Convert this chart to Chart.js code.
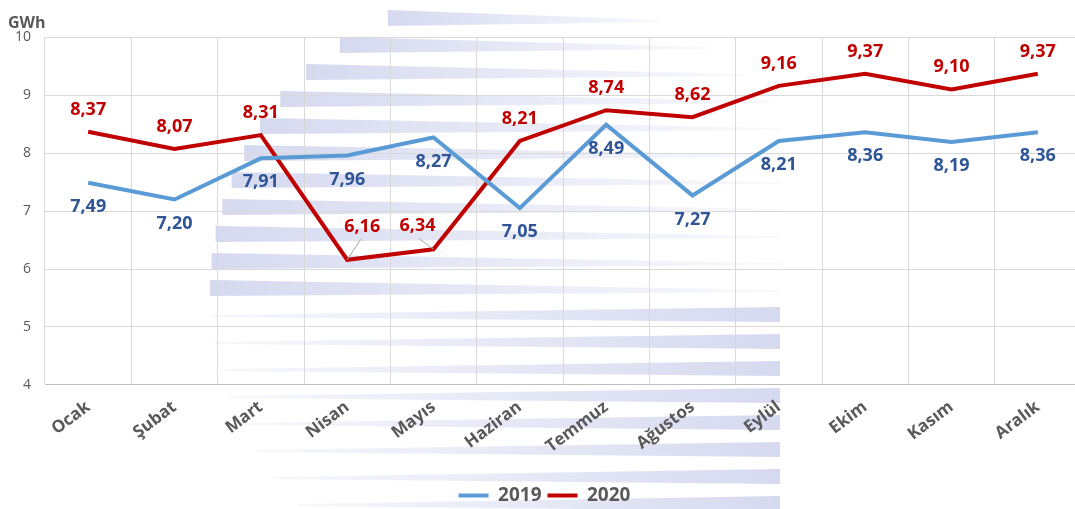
<!DOCTYPE html>
<html>
<head>
<meta charset="utf-8">
<script src="https://cdn.jsdelivr.net/npm/chart.js@4.4.1/dist/chart.umd.min.js"></script>
<style>
  html, body { margin: 0; padding: 0; background: #fff; overflow: hidden; }
  #wrap { width: 1085px; height: 509px; position: relative; }
</style>
</head>
<body>
<div id="wrap"><canvas id="chart"></canvas></div>
<script>
const months = ["Ocak", "Şubat", "Mart", "Nisan", "Mayıs", "Haziran", "Temmuz", "Ağustos", "Eylül", "Ekim", "Kasım", "Aralık"];
const values2019 = [7.49, 7.20, 7.91, 7.96, 8.27, 7.05, 8.49, 7.27, 8.21, 8.36, 8.19, 8.36];
const values2020 = [8.37, 8.07, 8.31, 6.16, 6.34, 8.21, 8.74, 8.62, 9.16, 9.37, 9.10, 9.37];
const yTicks = [4, 5, 6, 7, 8, 9, 10];

const gray = "#595959";
const labelFont = "bold 18px 'Open Sans'";

// etiket kaydırma (px): 2019 altta, 2020 üstte; Nisan/Mayıs 2020 çizgili
const labelStyle = [
  { color: "#2F5597", dy: 24 },
  { color: "#C00000", dy: -22, moved: { 3: [15, -33], 4: [-16, -23] } }
];

// arka plandaki soluk logo (şeritler)
const watermark = {
  id: "watermark",
  beforeDraw(chart) {
    const ctx = chart.ctx;
    const cx = 510, cy = 290, r = 300;
    ctx.save();
    for (let y = 10; y < 509; y += 27) {
      const dy = Math.abs(y + 6 - cy);
      if (dy >= r) continue;
      const left = cx - Math.sqrt(r * r - dy * dy);
      const upper = y < 300;
      const right = upper ? Math.min(780, 2 * cx - left + 30) : 780;
      const g = ctx.createLinearGradient(left, 0, right, 0);
      if (upper) {
        g.addColorStop(0, "rgba(200,205,234,0.75)");
        g.addColorStop(1, "rgba(200,205,234,0.1)");
      } else {
        g.addColorStop(0, "rgba(200,205,234,0.15)");
        g.addColorStop(1, "rgba(200,205,234,0.75)");
      }
      ctx.fillStyle = g;
      ctx.beginPath();
      if (upper) {
        ctx.moveTo(left, y);
        ctx.lineTo(right, y + 10);
        ctx.lineTo(right, y + 12);
        ctx.lineTo(left, y + 16);
      } else {
        ctx.moveTo(left, y + 8);
        ctx.lineTo(right, y);
        ctx.lineTo(right, y + 15);
        ctx.lineTo(left, y + 10);
      }
      ctx.closePath();
      ctx.fill();
    }
    ctx.restore();
  }
};

const dataLabels = {
  id: "dataLabels",
  afterDatasetsDraw(chart) {
    const ctx = chart.ctx;
    ctx.save();
    ctx.font = labelFont;
    ctx.textAlign = "center";
    ctx.textBaseline = "middle";
    chart.data.datasets.forEach((ds, di) => {
      const st = labelStyle[di];
      chart.getDatasetMeta(di).data.forEach((pt, i) => {
        let x = pt.x, y = pt.y + st.dy;
        const mv = st.moved && st.moved[i];
        if (mv) {
          x = pt.x + mv[0];
          y = pt.y + mv[1];
          ctx.strokeStyle = "#a6a6a6";
          ctx.lineWidth = 1;
          ctx.beginPath();
          ctx.moveTo(x + (mv[0] > 0 ? -1 : 1), y + 12);
          ctx.lineTo(pt.x, pt.y);
          ctx.stroke();
        }
        ctx.fillStyle = st.color;
        ctx.fillText(ds.data[i].toFixed(2).replace(".", ","), x, y);
      });
    });
    ctx.restore();
  }
};

new Chart(document.getElementById("chart").getContext("2d"), {
  type: "line",
  data: {
    labels: months,
    datasets: [
      {
        label: "2019",
        data: values2019,
        borderColor: "#5B9BD5",
        backgroundColor: "#5B9BD5",
        borderWidth: 4,
        pointRadius: 0,
        tension: 0
      },
      {
        label: "2020",
        data: values2020,
        borderColor: "#C00000",
        backgroundColor: "#C00000",
        borderWidth: 4,
        pointRadius: 0,
        tension: 0
      }
    ]
  },
  options: {
    responsive: true,
    maintainAspectRatio: false,
    animation: false,
    layout: { padding: { left: 8, right: 4, top: 14, bottom: -6 } },
    plugins: {
      title: {
        display: true,
        text: "GWh",
        align: "start",
        color: gray,
        font: { family: "'Open Sans'", size: 16, weight: "bold" },
        padding: { top: 0, bottom: 4 }
      },
      legend: {
        position: "bottom",
        labels: {
          usePointStyle: true,
          pointStyle: "line",
          pointStyleWidth: 30,
          color: gray,
          font: { family: "'Open Sans'", size: 19, weight: "bold" },
          padding: 6
        }
      },
      tooltip: { enabled: false }
    },
    scales: {
      x: {
        offset: true,
        grid: { offset: true, color: "#d9d9d9", drawTicks: false },
        border: { color: "#bfbfbf" },
        afterFit: s => { s.height += 11; },
        ticks: {
          color: gray,
          font: { family: "'Open Sans'", size: 17, weight: "bold" },
          minRotation: 37,
          maxRotation: 37,
          padding: 12
        }
      },
      y: {
        min: yTicks[0],
        max: yTicks[yTicks.length - 1],
        grid: { color: "#d9d9d9", drawTicks: false },
        border: { display: false },
        afterBuildTicks: s => { s.ticks = yTicks.map(v => ({ value: v })); },
        afterFit: s => { s.width = 37; },
        ticks: {
          color: gray,
          font: { family: "'Open Sans'", size: 14 },
          padding: 14
        }
      }
    }
  },
  plugins: [watermark, dataLabels]
});
</script>
</body>
</html>
